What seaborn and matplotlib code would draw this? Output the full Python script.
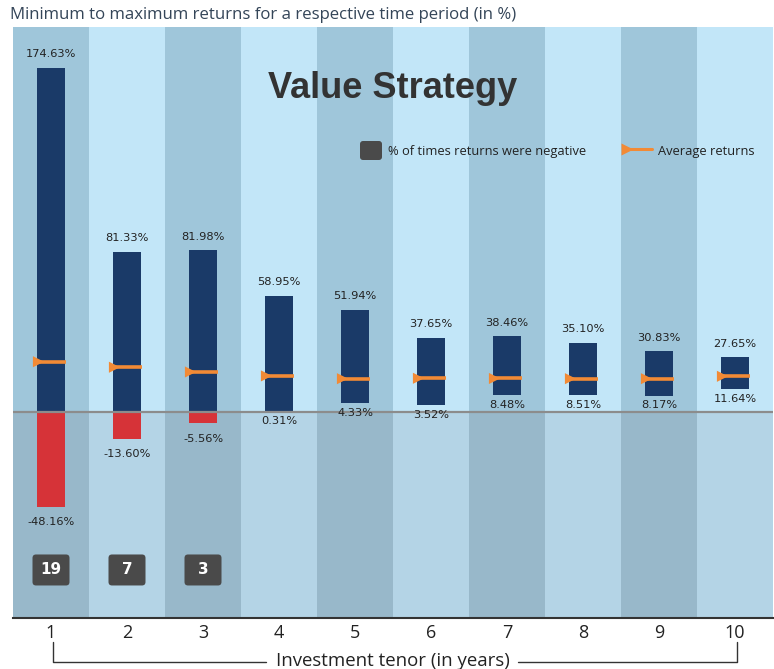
import numpy as np
import pandas as pd
import seaborn as sns
import matplotlib
matplotlib.use("Agg")
import matplotlib.pyplot as plt
from matplotlib.patches import Rectangle, FancyBboxPatch
from matplotlib.lines import Line2D
import matplotlib.transforms as mtransforms

# ---------------- data ----------------
tenors = ["1", "2", "3", "4", "5", "6", "7", "8", "9", "10"]
max_returns = [174.63, 81.33, 81.98, 58.95, 51.94, 37.65, 38.46, 35.10, 30.83, 27.65]
min_returns = [-48.16, -13.60, -5.56, 0.31, 4.33, 3.52, 8.48, 8.51, 8.17, 11.64]
avg_returns = [25.5, 22.7, 20.3, 18.3, 16.9, 17.1, 17.0, 16.9, 16.9, 18.1]
neg_pct = [19, 7, 3, 0, 0, 0, 0, 0, 0, 0]

title = "Value Strategy"
subtitle = "Minimum to maximum returns for a respective time period (in %)"
xlabel = "Investment tenor (in years)"
legend_neg = "% of times returns were negative"
legend_avg = "Average returns"

# ---------------- style ----------------
sns.set_theme(style="white")
plt.rcParams["font.family"] = ["DejaVu Sans"]

NAVY = "#1a3a68"
RED = "#d63338"
ORANGE = "#f28a35"
BOX = "#4a4a4a"
TXT = "#222222"

W, H = 774, 669
fig = plt.figure(figsize=(W / 100, H / 100), dpi=100)
fig.patch.set_facecolor("white")
PX = mtransforms.Affine2D().scale(1 / W, -1 / H).translate(0, 1) + fig.transFigure

ax = fig.add_axes([13 / W, 1 - 618 / H, 760 / W, 591 / H])
YMIN, YMAX = -104.5, 195.3
pos = np.arange(len(tenors))

# background bands
for i in pos:
    dark = (i % 2 == 0)
    up = "#9fc6da" if dark else "#c2e6f8"
    lo = "#98b8ca" if dark else "#b4d4e6"
    ax.add_patch(Rectangle((i - 0.5, 0), 1, YMAX, facecolor=up, edgecolor="none", zorder=0))
    ax.add_patch(Rectangle((i - 0.5, YMIN), 1, -YMIN, facecolor=lo, edgecolor="none", zorder=0))

navy_bottom = [max(m, 0) for m in min_returns]
navy_height = [mx - b for mx, b in zip(max_returns, navy_bottom)]
red_bottom = [m if m < 0 else 0 for m in min_returns]
red_height = [-m if m < 0 else 0 for m in min_returns]
df = pd.DataFrame({"tenor": tenors, "navy": navy_height, "red": red_height})

sns.barplot(data=df, x="tenor", y="navy", order=tenors, bottom=navy_bottom, color=NAVY,
            saturation=1, width=0.38, errorbar=None, linewidth=0, ax=ax, zorder=2)
sns.barplot(data=df, x="tenor", y="red", order=tenors, bottom=red_bottom, color=RED,
            saturation=1, width=0.38, errorbar=None, linewidth=0, ax=ax, zorder=2)

ax.axhline(0, color="#8c8c8c", lw=1.6, zorder=4)

# average markers
ax.hlines(avg_returns, pos - 0.22, pos + 0.2, color=ORANGE, lw=2.6, zorder=5)
ax.scatter(pos - 0.165, avg_returns, marker=">", s=64, color=ORANGE, edgecolors="none", zorder=6)

# value labels
for i, (mx, mn) in enumerate(zip(max_returns, min_returns)):
    ax.annotate(f"{mx:.2f}%", (i, mx), xytext=(0, 9.75), textcoords="offset points",
                ha="center", va="center", fontsize=8.2, color=TXT, zorder=7)
    off = -11.2 if mn < 0 else -6.9
    ax.annotate(f"{mn:.2f}%", (i, mn), xytext=(0, off), textcoords="offset points",
                ha="center", va="center", fontsize=8.2, color=TXT, zorder=7)

# negative count boxes
box_y = (412 - 570) / 1.9716
for i, n in enumerate(neg_pct):
    if n > 0:
        tr = fig.dpi_scale_trans + mtransforms.ScaledTranslation(i, box_y, ax.transData)
        ax.add_patch(FancyBboxPatch((-0.185, -0.155), 0.37, 0.31,
                                    boxstyle="round,pad=0,rounding_size=0.035",
                                    facecolor=BOX, edgecolor="none", transform=tr, zorder=6))
        ax.text(i, box_y, str(n), ha="center", va="center", fontsize=11, fontweight="bold",
                color="white", zorder=7)

ax.set_xlim(-0.5, 9.5)
ax.set_ylim(YMIN, YMAX)
ax.set_yticks([])
ax.set_xticks(pos)
ax.set_xticklabels(tenors)
ax.set_xlabel("")
ax.set_ylabel("")
ax.tick_params(axis="x", length=0, pad=4, labelsize=13, labelcolor=TXT)
for lbl in ax.get_xticklabels():
    lbl.set_fontfamily("Open Sans")
for s in ["left", "right", "top"]:
    ax.spines[s].set_visible(False)
ax.spines["bottom"].set_color("#333333")
ax.spines["bottom"].set_linewidth(1.5)
ax.spines["bottom"].set_zorder(8)

# title texts
fig.text(392.5, 97.7, title, transform=PX, ha="center", va="baseline", fontsize=26,
         fontweight="bold", color="#333333", family="Liberation Sans")
fig.text(10, 19.3, subtitle, transform=PX, ha="left", va="baseline", fontsize=12.1,
         color="#344558", family="Open Sans")

# legend
fig.add_artist(FancyBboxPatch((360, 141), 22, 19, boxstyle="round,pad=0,rounding_size=3",
                              facecolor=BOX, edgecolor="none", transform=PX))
fig.text(388, 155, legend_neg, transform=PX, ha="left", va="baseline", fontsize=9.3,
         color=TXT, family="Open Sans")
fig.add_artist(Line2D([628, 652], [149, 149], color=ORANGE, lw=2.2, transform=PX))
fig.add_artist(Line2D([626.5], [149], marker=">", ms=8.5, color=ORANGE, mec="none", transform=PX))
fig.text(658, 155, legend_avg, transform=PX, ha="left", va="baseline", fontsize=9.3,
         color=TXT, family="Open Sans")

# bracket + x label
xl, xr, yb, yt = 52.5, 736.5, 661.5, 642
fig.add_artist(Line2D([xl, xl, 266], [yt, yb, yb], color="#333333", lw=1, transform=PX))
fig.add_artist(Line2D([518, xr, xr], [yb, yb, yt], color="#333333", lw=1, transform=PX))
fig.text(392.5, 666.5, xlabel, transform=PX, ha="center", va="baseline", fontsize=13.4,
         color=TXT, family="Open Sans")

fig.savefig("out.png", dpi=100)
